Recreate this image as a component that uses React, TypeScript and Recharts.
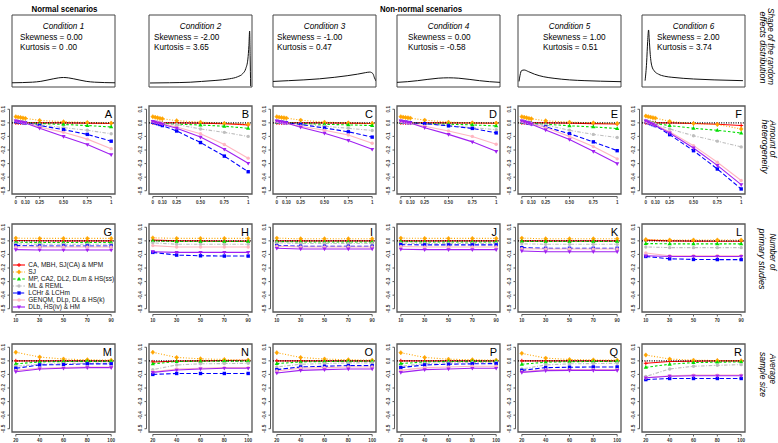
import React from "react";
import { LineChart, Line, XAxis, YAxis, ReferenceLine, ReferenceArea } from "recharts";

// ---------- text ----------
const conditionTitles = ["Condition 1", "Condition 2", "Condition 3", "Condition 4", "Condition 5", "Condition 6"];
const skewnessLabels = ["Skewness = 0.00", "Skewness = -2.00", "Skewness = -1.00", "Skewness = 0.00", "Skewness = 1.00", "Skewness = 2.00"];
const kurtosisLabels = ["Kurtosis = 0 .00", "Kurtosis = 3.65", "Kurtosis = 0.47", "Kurtosis = -0.58", "Kurtosis = 0.51", "Kurtosis = 3.74"];
const methodNames = [
  "CA, MBH, SJ(CA) & MPM",
  "SJ",
  "MP, CA2, DL2, DLm & HS(ss)",
  "ML & REML",
  "LCHr & LCHm",
  "GENQM, DLp, DL & HS(k)",
  "DLb, HS(iv) & HM",
];
const panelLetters = [
  ["A", "B", "C", "D", "E", "F"],
  ["G", "H", "I", "J", "K", "L"],
  ["M", "N", "O", "P", "Q", "R"],
];

// ---------- axes ----------
const heterogeneity = [0, 0.025, 0.05, 0.075, 0.1, 0.25, 0.5, 0.75, 1];
const heterogeneityTicks = [0, 0.1, 0.25, 0.5, 0.75, 1];
const heterogeneityLabels = ["0", "0.10", "0.25", "0.50", "0.75", "1"];
const studies = [10, 30, 50, 70, 90];
const studiesLabels = ["10", "30", "50", "70", "90"];
const sampleSize = [20, 40, 60, 80, 100];
const sampleLabels = ["20", "40", "60", "80", "100"];
const biasTicks = [0.1, 0, -0.1, -0.2, -0.3, -0.4, -0.5];
const biasLabels = ["0.1", "0.0", "-0.1", "-0.2", "-0.3", "-0.4", "-0.5"];

// ---------- shape of the random effects distribution ----------
const shapeX1 = [0, 0.1, 0.2, 0.28, 0.34, 0.4, 0.45, 0.5, 0.55, 0.6, 0.66, 0.72, 0.8, 0.9, 1];
const shapeY1 = [0.004, 0.008, 0.016, 0.032, 0.055, 0.08, 0.098, 0.106, 0.098, 0.08, 0.055, 0.032, 0.016, 0.008, 0.004];
const shapeX2 = [0.01, 0.2, 0.4, 0.51, 0.65, 0.78, 0.86, 0.91, 0.94, 0.96, 0.97, 0.977, 0.982, 0.987];
const shapeY2 = [0, 0.005, 0.015, 0.03, 0.05, 0.08, 0.12, 0.18, 0.28, 0.46, 0.72, 1.0, 0.5, -0.06];
const shapeX3 = [0, 0.15, 0.3, 0.45, 0.6, 0.72, 0.82, 0.9, 0.94, 0.97, 0.985, 1];
const shapeY3 = [0.03, 0.045, 0.06, 0.08, 0.11, 0.14, 0.17, 0.2, 0.21, 0.18, 0.1, 0.04];
const shapeX4 = [0, 0.1, 0.2, 0.3, 0.4, 0.5, 0.6, 0.7, 0.8, 0.9, 1];
const shapeY4 = [0.012, 0.025, 0.045, 0.07, 0.092, 0.1, 0.092, 0.07, 0.045, 0.025, 0.012];
const shapeX5 = [0.01, 0.02, 0.035, 0.06, 0.1, 0.16, 0.25, 0.35, 0.5, 0.65, 0.8, 1];
const shapeY5 = [0.03, 0.15, 0.24, 0.25, 0.22, 0.17, 0.12, 0.09, 0.06, 0.045, 0.035, 0.025];
const shapeX6 = [0.03, 0.045, 0.055, 0.064, 0.07, 0.08, 0.095, 0.12, 0.16, 0.22, 0.29, 0.4, 0.5, 0.7, 0.98];
const shapeY6 = [0.045, 0.4, 0.8, 1.02, 0.85, 0.55, 0.33, 0.23, 0.17, 0.13, 0.11, 0.09, 0.077, 0.06, 0.045];

// ---------- bias, amount of heterogeneity (one row per method, legend order) ----------
const panelA = [
  [0, 0, 0, 0, 0, 0, 0, -0.002, -0.005],
  [0.045, 0.042, 0.039, 0.036, 0.033, 0.018, 0.008, 0.003, -0.002],
  [0.01, 0.008, 0.005, 0.003, 0.001, -0.005, -0.012, -0.02, -0.03],
  [0.01, 0.008, 0.005, 0.002, -0.001, -0.015, -0.035, -0.055, -0.08],
  [0.01, 0.008, 0.005, 0.002, 0, -0.02, -0.05, -0.085, -0.135],
  [0.015, 0.012, 0.008, 0.004, 0, -0.03, -0.07, -0.12, -0.19],
  [0.015, 0.011, 0.007, 0.003, -0.001, -0.04, -0.1, -0.16, -0.235],
];
const panelB = [
  [0, 0, 0, 0, 0, 0, -0.002, -0.006, -0.015],
  [0.045, 0.041, 0.037, 0.033, 0.03, 0.016, 0.005, -0.004, -0.01],
  [0.005, 0.003, 0.001, -0.001, -0.003, -0.01, -0.016, -0.025, -0.04],
  [0.01, 0.007, 0.004, 0.001, -0.002, -0.012, -0.045, -0.07, -0.1],
  [0.005, 0, -0.006, -0.012, -0.02, -0.06, -0.145, -0.245, -0.36],
  [0.01, 0.007, 0.003, -0.001, -0.005, -0.03, -0.08, -0.16, -0.26],
  [0.01, 0.005, 0, -0.005, -0.01, -0.04, -0.105, -0.195, -0.298],
];
const panelC = [
  [0, 0, 0, 0, 0, 0, 0, -0.002, -0.005],
  [0.045, 0.042, 0.039, 0.037, 0.035, 0.02, 0.005, 0, -0.005],
  [0.005, 0.004, 0.002, 0.001, 0, -0.005, -0.011, -0.015, -0.02],
  [0.01, 0.008, 0.005, 0.002, 0, -0.008, -0.025, -0.04, -0.056],
  [0.01, 0.008, 0.005, 0.002, 0, -0.012, -0.038, -0.066, -0.105],
  [0.01, 0.007, 0.004, 0, -0.004, -0.025, -0.055, -0.09, -0.15],
  [0.015, 0.011, 0.007, 0.003, -0.001, -0.032, -0.076, -0.13, -0.195],
];
const panelD = [
  [0, 0, 0, 0, 0, 0, 0, -0.001, -0.003],
  [0.045, 0.042, 0.039, 0.037, 0.035, 0.02, 0.005, 0, -0.002],
  [0.005, 0.004, 0.002, 0.001, 0, -0.005, -0.01, -0.015, -0.023],
  [0.01, 0.008, 0.005, 0.002, 0, -0.007, -0.02, -0.035, -0.05],
  [0.01, 0.008, 0.005, 0.002, 0, -0.006, -0.022, -0.041, -0.074],
  [0.01, 0.007, 0.004, 0, -0.004, -0.025, -0.06, -0.1, -0.158],
  [0.015, 0.011, 0.007, 0.003, -0.001, -0.036, -0.085, -0.14, -0.21],
];
const panelE = [
  [0, 0, 0, 0, 0, 0, -0.002, -0.006, -0.008],
  [0.045, 0.041, 0.037, 0.033, 0.03, 0.015, 0.005, 0, -0.005],
  [0.005, 0.003, 0.001, -0.001, -0.003, -0.01, -0.022, -0.03, -0.042],
  [0.01, 0.007, 0.004, 0.001, -0.002, -0.015, -0.055, -0.085, -0.108],
  [0.01, 0.006, 0.002, -0.002, -0.006, -0.03, -0.08, -0.14, -0.205],
  [0.01, 0.006, 0.002, -0.002, -0.006, -0.035, -0.1, -0.175, -0.265],
  [0.015, 0.009, 0.003, -0.003, -0.01, -0.052, -0.123, -0.21, -0.3],
];
const panelF = [
  [0, 0, 0, 0, 0, 0, -0.005, -0.01, -0.02],
  [0.05, 0.046, 0.042, 0.038, 0.035, 0.011, -0.005, -0.012, -0.045],
  [0.01, 0.006, 0.002, -0.002, -0.005, -0.02, -0.04, -0.055, -0.075],
  [0.01, 0.005, 0, -0.005, -0.01, -0.045, -0.095, -0.135, -0.177],
  [0.01, 0.002, -0.006, -0.013, -0.02, -0.087, -0.205, -0.34, -0.487],
  [0.01, 0.004, -0.002, -0.008, -0.015, -0.065, -0.168, -0.29, -0.425],
  [0.015, 0.006, -0.002, -0.01, -0.02, -0.075, -0.185, -0.313, -0.455],
];

// ---------- bias, number of primary studies ----------
const panelG = [
  [0.002, 0.001, 0, 0, 0],
  [0.02, 0.018, 0.018, 0.018, 0.018],
  [-0.01, -0.012, -0.012, -0.012, -0.012],
  [-0.022, -0.025, -0.025, -0.025, -0.025],
  [-0.035, -0.038, -0.038, -0.038, -0.038],
  [-0.045, -0.045, -0.045, -0.045, -0.045],
  [-0.065, -0.068, -0.068, -0.068, -0.068],
];
const panelH = [
  [0.005, 0, 0, -0.002, -0.002],
  [0.022, 0.018, 0.018, 0.018, 0.018],
  [0, -0.005, -0.005, -0.005, -0.005],
  [-0.015, -0.025, -0.025, -0.025, -0.025],
  [-0.085, -0.105, -0.11, -0.112, -0.112],
  [-0.035, -0.045, -0.045, -0.045, -0.045],
  [-0.08, -0.085, -0.085, -0.085, -0.085],
];
const panelI = [
  [0, 0, 0, 0, 0],
  [0.02, 0.015, 0.015, 0.015, 0.015],
  [-0.005, -0.008, -0.008, -0.008, -0.008],
  [-0.015, -0.02, -0.02, -0.02, -0.02],
  [-0.035, -0.04, -0.04, -0.04, -0.04],
  [-0.04, -0.045, -0.045, -0.045, -0.045],
  [-0.055, -0.06, -0.06, -0.06, -0.06],
];
const panelJ = [
  [0, 0, 0, 0, 0],
  [0.02, 0.018, 0.018, 0.018, 0.018],
  [-0.006, -0.008, -0.008, -0.008, -0.008],
  [-0.017, -0.02, -0.02, -0.02, -0.02],
  [-0.028, -0.03, -0.03, -0.03, -0.03],
  [-0.042, -0.045, -0.045, -0.045, -0.045],
  [-0.062, -0.065, -0.065, -0.065, -0.065],
];
const panelK = [
  [0, 0, 0, 0, 0],
  [0.02, 0.015, 0.015, 0.015, 0.015],
  [-0.004, -0.005, -0.005, -0.005, -0.005],
  [-0.022, -0.025, -0.025, -0.025, -0.025],
  [-0.05, -0.055, -0.055, -0.055, -0.055],
  [-0.058, -0.06, -0.06, -0.06, -0.06],
  [-0.075, -0.08, -0.08, -0.08, -0.08],
];
const panelL = [
  [0.005, 0, -0.002, -0.003, -0.003],
  [0.01, 0.006, 0.006, 0.006, 0.006],
  [-0.02, -0.022, -0.022, -0.022, -0.022],
  [-0.045, -0.05, -0.05, -0.05, -0.05],
  [-0.115, -0.132, -0.137, -0.138, -0.138],
  [-0.09, -0.11, -0.11, -0.11, -0.11],
  [-0.11, -0.115, -0.115, -0.115, -0.115],
];

// ---------- bias, average sample size ----------
const panelM = [
  [0, 0, 0, 0, 0],
  [0.063, 0.028, 0.013, 0.008, 0.005],
  [-0.022, -0.008, -0.005, -0.004, -0.004],
  [-0.04, -0.025, -0.02, -0.017, -0.017],
  [-0.055, -0.03, -0.028, -0.022, -0.022],
  [-0.07, -0.055, -0.05, -0.045, -0.045],
  [-0.08, -0.06, -0.055, -0.05, -0.05],
];
const panelN = [
  [-0.008, -0.002, 0, 0.002, 0.004],
  [0.063, 0.025, 0.015, 0.01, 0.005],
  [-0.022, -0.005, -0.003, -0.002, -0.002],
  [-0.065, -0.03, -0.022, -0.02, -0.018],
  [-0.1, -0.093, -0.093, -0.093, -0.093],
  [-0.08, -0.06, -0.055, -0.05, -0.05],
  [-0.085, -0.068, -0.06, -0.055, -0.055],
];
const panelO = [
  [0, 0, 0, 0, 0],
  [0.06, 0.025, 0.013, 0.008, 0.005],
  [-0.02, -0.008, -0.005, -0.003, -0.003],
  [-0.045, -0.025, -0.02, -0.015, -0.015],
  [-0.065, -0.045, -0.04, -0.035, -0.035],
  [-0.075, -0.055, -0.05, -0.045, -0.045],
  [-0.09, -0.07, -0.065, -0.06, -0.06],
];
const panelP = [
  [0, 0, 0, 0, 0],
  [0.06, 0.025, 0.012, 0.008, 0.005],
  [-0.02, -0.008, -0.005, -0.004, -0.003],
  [-0.04, -0.02, -0.015, -0.013, -0.012],
  [-0.05, -0.03, -0.025, -0.022, -0.02],
  [-0.07, -0.05, -0.045, -0.04, -0.04],
  [-0.085, -0.065, -0.06, -0.055, -0.055],
];
const panelQ = [
  [0, 0, 0, 0, 0],
  [0.055, 0.02, 0.01, 0.007, 0.005],
  [-0.025, -0.01, -0.006, -0.005, -0.004],
  [-0.06, -0.03, -0.022, -0.02, -0.018],
  [-0.07, -0.05, -0.047, -0.045, -0.045],
  [-0.08, -0.065, -0.065, -0.065, -0.065],
  [-0.085, -0.072, -0.07, -0.07, -0.07],
];
const panelR = [
  [-0.018, -0.005, -0.002, 0, 0],
  [0.043, 0.013, 0.005, 0.002, 0],
  [-0.048, -0.025, -0.013, -0.01, -0.008],
  [-0.115, -0.06, -0.04, -0.033, -0.028],
  [-0.138, -0.13, -0.13, -0.13, -0.13],
  [-0.125, -0.11, -0.105, -0.105, -0.105],
  [-0.125, -0.113, -0.11, -0.11, -0.11],
];

// ---------- layout & style ----------
const FONT = "'Liberation Sans', Arial, sans-serif";
const COL_LEFT = [12, 149, 273, 397, 518, 642];
const ROW_TOP = [106, 224, 344];
const BOX_W = 103;
const BOX_H = 88;
const AXIS_W = 14;
const AXIS_H = 14;
const PAD = 2;
const SHAPE_TOP = 15;
const SHAPE_H = 72;
const SHAPE_DOMAIN: [number, number] = [-0.077, 1.308];
const Y_DOMAIN: [number, number] = [-0.524, 0.124];

const methodStyles = [
  { color: "#FF0000", dash: undefined, shape: "plus" },
  { color: "#FFA500", dash: "1 1.8", shape: "diamond" },
  { color: "#00DD00", dash: "2.6 2", shape: "triUp" },
  { color: "#BEBEBE", dash: "1 1.6 3.5 1.6", shape: "circle" },
  { color: "#0000FF", dash: "4.5 2.2", shape: "square" },
  { color: "#FFB6C1", dash: undefined, shape: "circle" },
  { color: "#A020F0", dash: undefined, shape: "triDown" },
];

function Marker({ shape, cx, cy, color }: any) {
  if (cx == null || cy == null) return null;
  switch (shape) {
    case "plus":
      return (
        <g stroke={color} strokeWidth={1}>
          <line x1={cx - 2} y1={cy} x2={cx + 2} y2={cy} />
          <line x1={cx} y1={cy - 2} x2={cx} y2={cy + 2} />
        </g>
      );
    case "diamond":
      return <polygon points={`${cx},${cy - 2.2} ${cx + 2},${cy} ${cx},${cy + 2.2} ${cx - 2},${cy}`} fill={color} stroke={color} strokeWidth={0.4} />;
    case "triUp":
      return <polygon points={`${cx},${cy - 2.3} ${cx + 2.1},${cy + 1.4} ${cx - 2.1},${cy + 1.4}`} fill={color} />;
    case "triDown":
      return <polygon points={`${cx},${cy + 2.3} ${cx + 2.1},${cy - 1.4} ${cx - 2.1},${cy - 1.4}`} fill={color} />;
    case "square":
      return <rect x={cx - 1.7} y={cy - 1.7} width={3.4} height={3.4} fill={color} />;
    default:
      return <circle cx={cx} cy={cy} r={1.7} fill={color} />;
  }
}

function XTick(props: any) {
  const { x, y, payload, index, ticks, labels, k } = props;
  const v = payload.value;
  let i = ticks.indexOf(v);
  if (i < 0) i = index;
  const next = ticks[i + 1];
  const ay = y + 2.5;
  return (
    <g>
      {next !== undefined && <line x1={x} y1={ay} x2={x + (next - v) * k} y2={ay} stroke="#333" strokeWidth={0.8} />}
      <line x1={x} y1={ay} x2={x} y2={ay + 2} stroke="#333" strokeWidth={0.8} />
      <text x={x} y={ay + 7.3} textAnchor="middle" fontSize={4.6} fontWeight="bold" fill="#333" fontFamily={FONT}>
        {labels[i]}
      </text>
    </g>
  );
}

function YTick(props: any) {
  const { x, y, payload, k } = props;
  const v = payload.value;
  const i = biasTicks.findIndex((t) => Math.abs(t - v) < 1e-9);
  const lower = biasTicks.filter((t) => t < v - 1e-9);
  const next = lower.length ? Math.max(...lower) : undefined;
  const ax = x - 2.5;
  return (
    <g>
      {next !== undefined && <line x1={ax} y1={y} x2={ax} y2={y + (v - next) * k} stroke="#333" strokeWidth={0.8} />}
      <line x1={ax} y1={y} x2={ax - 2} y2={y} stroke="#333" strokeWidth={0.8} />
      <text transform={`translate(${ax - 4.6},${y}) rotate(-90)`} textAnchor="middle" fontSize={4.6} fontWeight="bold" fill="#333" fontFamily={FONT}>
        {biasLabels[i]}
      </text>
    </g>
  );
}

function BiasPanel({ left, top, xs, xTicks, xLabels, values }: any) {
  const span = xTicks[xTicks.length - 1] - xTicks[0];
  const xDomain: [number, number] = [xTicks[0] - span * 0.04, xTicks[xTicks.length - 1] + span * 0.04];
  const kx = BOX_W / (xDomain[1] - xDomain[0]);
  const ky = BOX_H / (Y_DOMAIN[1] - Y_DOMAIN[0]);
  const data = xs.map((x: number, i: number) => {
    const row: any = { x };
    values.forEach((s: number[], j: number) => (row["m" + j] = s[i]));
    return row;
  });
  const w = AXIS_W + BOX_W + PAD;
  const h = PAD + BOX_H + AXIS_H;
  return (
    <div style={{ position: "absolute", left: left - AXIS_W, top: top - PAD, width: w, height: h }}>
      <LineChart width={w} height={h} data={data} margin={{ top: PAD, right: PAD, bottom: 0, left: 0 }}>
        <XAxis
          dataKey="x"
          type="number"
          domain={xDomain}
          ticks={xTicks}
          interval={0}
          allowDataOverflow
          height={AXIS_H}
          axisLine={false}
          tickLine={false}
          tickSize={0}
          tickMargin={0}
          tick={(p: any) => <XTick {...p} ticks={xTicks} labels={xLabels} k={kx} />}
        />
        <YAxis
          type="number"
          domain={Y_DOMAIN}
          ticks={biasTicks}
          interval={0}
          allowDataOverflow
          width={AXIS_W}
          axisLine={false}
          tickLine={false}
          tickSize={0}
          tickMargin={0}
          tick={(p: any) => <YTick {...p} k={ky} />}
        />
        <ReferenceArea x1={xDomain[0]} x2={xDomain[1]} y1={Y_DOMAIN[0]} y2={Y_DOMAIN[1]} fill="none" stroke="#555" strokeWidth={1.3} ifOverflow="visible" />
        {methodStyles.map((st, j) => (
          <Line
            key={j}
            dataKey={"m" + j}
            type="linear"
            stroke={st.color}
            strokeWidth={1.1}
            strokeDasharray={st.dash}
            isAnimationActive={false}
            activeDot={false}
            dot={(p: any) => <Marker key={p.index} shape={st.shape} cx={p.cx} cy={p.cy} color={st.color} />}
          />
        ))}
        <ReferenceLine y={0} stroke="#000" strokeWidth={1.1} strokeDasharray="1 1.4" />
      </LineChart>
    </div>
  );
}

function ShapePanel({ left, xs, ys }: any) {
  const data = xs.map((x: number, i: number) => ({ x, d: ys[i] }));
  return (
    <div style={{ position: "absolute", left: left - 1, top: SHAPE_TOP - 1, width: BOX_W + 2, height: SHAPE_H + 2 }}>
      <LineChart width={BOX_W + 2} height={SHAPE_H + 2} data={data} margin={{ top: 1, right: 1, bottom: 1, left: 1 }}>
        <XAxis dataKey="x" type="number" domain={[0, 1]} hide allowDataOverflow />
        <YAxis type="number" domain={SHAPE_DOMAIN} hide allowDataOverflow />
        <ReferenceArea x1={0} x2={1} y1={SHAPE_DOMAIN[0]} y2={SHAPE_DOMAIN[1]} fill="none" stroke="#444" strokeWidth={1} ifOverflow="visible" />
        <Line dataKey="d" type="monotone" stroke="#111" strokeWidth={1} dot={false} activeDot={false} isAnimationActive={false} />
      </LineChart>
    </div>
  );
}

const shapeXs = [shapeX1, shapeX2, shapeX3, shapeX4, shapeX5, shapeX6];
const shapeYs = [shapeY1, shapeY2, shapeY3, shapeY4, shapeY5, shapeY6];
const shapeTextOffset = [8, 5, 4, 11, 25, 15];
const rowPanels = [
  [panelA, panelB, panelC, panelD, panelE, panelF],
  [panelG, panelH, panelI, panelJ, panelK, panelL],
  [panelM, panelN, panelO, panelP, panelQ, panelR],
];
const rowXs = [heterogeneity, studies, sampleSize];
const rowTicks = [heterogeneityTicks, studies, sampleSize];
const rowLabels = [heterogeneityLabels, studiesLabels, sampleLabels];

// right-hand labels: [text, baseline x, centre y, length]
const sideLabels: [string, number, number, number][] = [
  ["Shape of the random", 768, 46.5, 77],
  ["effects distribution", 759.5, 47.5, 72],
  ["Amount of", 770, 139, 37],
  ["heterogeneity", 761.5, 146.5, 54],
  ["Number of", 769.5, 252, 37],
  ["primary studies", 759, 259, 61],
  ["Average", 770, 369, 30],
  ["sample size", 760, 374.5, 45],
];

export default function App() {
  return (
    <div style={{ position: "absolute", left: 0, top: 0, width: 778, height: 443, background: "#fff", overflow: "hidden", fontFamily: FONT }}>
      {COL_LEFT.map((l, c) => (
        <ShapePanel key={"s" + c} left={l} xs={shapeXs[c]} ys={shapeYs[c]} />
      ))}
      {ROW_TOP.map((t, r) =>
        COL_LEFT.map((l, c) => (
          <BiasPanel key={r + "-" + c} left={l} top={t} xs={rowXs[r]} xTicks={rowTicks[r]} xLabels={rowLabels[r]} values={rowPanels[r][c]} />
        ))
      )}
      <svg width={778} height={443} style={{ position: "absolute", left: 0, top: 0, pointerEvents: "none" }} fontFamily={FONT}>
        <text x={64.5} y={11.5} textAnchor="middle" fontSize={9} fontWeight="bold" textLength={66} lengthAdjust="spacingAndGlyphs">
          Normal scenarios
        </text>
        <text x={421} y={11.5} textAnchor="middle" fontSize={9} fontWeight="bold" textLength={82} lengthAdjust="spacingAndGlyphs">
          Non-normal scenarios
        </text>
        {COL_LEFT.map((l, c) => (
          <g key={"t" + c} fontSize={8.2}>
            <text x={l + BOX_W / 2} y={29.3} textAnchor="middle" fontStyle="italic">
              {conditionTitles[c]}
            </text>
            <text x={l + shapeTextOffset[c]} y={39.5}>
              {skewnessLabels[c]}
            </text>
            <text x={l + shapeTextOffset[c]} y={49.5}>
              {kurtosisLabels[c]}
            </text>
          </g>
        ))}
        {ROW_TOP.map((t, r) =>
          COL_LEFT.map((l, c) => (
            <text key={"l" + r + c} x={l + BOX_W - 3} y={t + 11.5} textAnchor="end" fontSize={11}>
              {panelLetters[r][c]}
            </text>
          ))
        )}
        {methodNames.map((name, j) => {
          const cy = 265 + j * 7;
          const st = methodStyles[j];
          return (
            <g key={"lg" + j}>
              <line x1={13} y1={cy} x2={25} y2={cy} stroke={st.color} strokeWidth={1.1} strokeDasharray={st.dash} />
              <Marker shape={st.shape} cx={19} cy={cy} color={st.color} />
              <text x={28.3} y={cy + 2.3} fontSize={6.5} fill="#111">
                {name}
              </text>
            </g>
          );
        })}
        {sideLabels.map(([txt, x, cy, len], i) => (
          <text
            key={"side" + i}
            transform={`translate(${x},${cy}) rotate(90)`}
            textAnchor="middle"
            fontSize={8.4}
            fontStyle="italic"
            textLength={len}
            lengthAdjust="spacingAndGlyphs"
          >
            {txt}
          </text>
        ))}
      </svg>
    </div>
  );
}
